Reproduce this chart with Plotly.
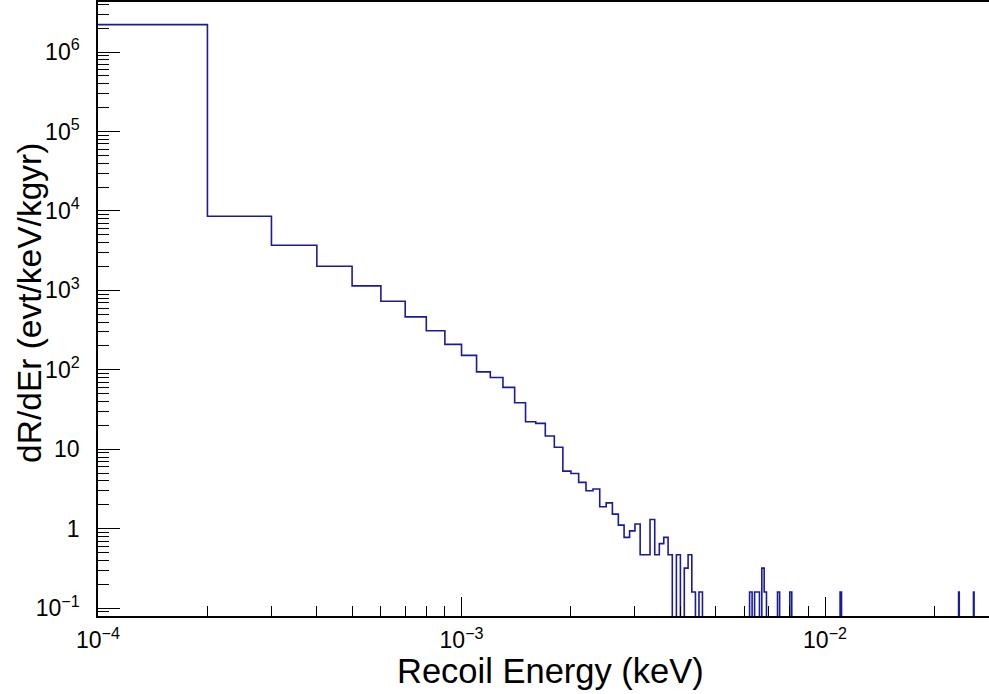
import numpy as np
import plotly.graph_objects as go

# ---- data ----
BIN_WIDTH = 1e-4            # keV, linear bins starting at 1e-4
N_BINS = 290
# bin contents for bins 1..45 (bin n spans [n, n+1] * 1e-4 keV)
low_bins = [2.21e6, 8570, 3705, 2015, 1140, 731, 464, 310, 209, 152,
            94.4, 80.2, 60.1, 38.5, 22.2, 21.2, 14.7, 10.6, 5.32, 4.97,
            3.83, 3.01, 3.16, 1.89, 2.12, 1.53, 1.11, 0.78, 0.94, 1.15,
            0.47, 0.47, 1.31, 0.47, 0.65, 0.78, 0.47, 0.0, 0.47, 0.0,
            0.32, 0.47, 0.16, 0.0, 0.16]
# sparse high-energy tail
tail_bin_index = [62, 64, 65, 67, 68, 74, 80, 110, 233, 256]
tail_values = [0.16, 0.16, 0.16, 0.32, 0.16, 0.16, 0.16, 0.16, 0.16, 0.16]

x_tick_vals = [1e-4, 1e-3, 1e-2]
x_tick_text = ["10<sup>−4</sup>", "10<sup>−3</sup>", "10<sup>−2</sup>"]
y_tick_vals = [1e-1, 1, 10, 1e2, 1e3, 1e4, 1e5, 1e6]
y_tick_text = ["10<sup>−1</sup>", "1", "10", "10<sup>2</sup>", "10<sup>3</sup>",
               "10<sup>4</sup>", "10<sup>5</sup>", "10<sup>6</sup>"]

# ---- build histogram ----
contents = np.zeros(N_BINS)
contents[:len(low_bins)] = low_bins
for idx, v in zip(tail_bin_index, tail_values):
    contents[idx - 1] = v
left_edges = BIN_WIDTH * np.arange(1, N_BINS + 1)
right_end = BIN_WIDTH * (N_BINS + 1)
y_plot = np.where(contents > 0, contents, 1e-4)   # empty bins fall below the axis
xs = np.append(left_edges, right_end)
ys = np.append(y_plot, y_plot[-1])

FONT = "Liberation Sans, Arial, Helvetica, sans-serif"

fig = go.Figure()
fig.add_trace(go.Scatter(x=xs, y=ys, mode="lines", line_shape="hv",
                         line=dict(color="#1a1a9c", width=1.6),
                         hoverinfo="skip", showlegend=False))

minor_x = [m * 10.0 ** e for e in (-4, -3, -2) for m in range(2, 10) if m * 10.0 ** e < 0.03]
minor_y = [m * 10.0 ** e for e in range(-2, 7) for m in range(2, 10)
           if 0.079 < m * 10.0 ** e < 4.3e6]

fig.update_layout(
    width=989, height=694,
    margin=dict(l=98, r=0, t=2, b=78),
    paper_bgcolor="white", plot_bgcolor="white",
    font=dict(family=FONT, color="black"),
    xaxis=dict(type="log", range=[-4, -1.549],
               showline=True, linecolor="black", linewidth=1.5, mirror=True,
               showgrid=False, zeroline=False,
               ticks="inside", ticklen=19, tickwidth=1.2, tickcolor="black",
               tickmode="array", tickvals=x_tick_vals, ticktext=x_tick_text,
               tickfont=dict(size=23, family=FONT), ticklabelstandoff=3,
               minor=dict(tickmode="array", tickvals=minor_x, ticks="inside",
                          ticklen=10, tickwidth=1.2, tickcolor="black", showgrid=False)),
    yaxis=dict(type="log", range=[np.log10(0.0798), np.log10(4.26e6)],
               showline=True, linecolor="black", linewidth=1.5, mirror=False,
               showgrid=False, zeroline=False,
               ticks="inside", ticklen=22, tickwidth=1.2, tickcolor="black",
               tickmode="array", tickvals=y_tick_vals, ticktext=y_tick_text,
               tickfont=dict(size=23, family=FONT), ticklabelstandoff=12,
               minor=dict(tickmode="array", tickvals=minor_y, ticks="inside",
                          ticklen=11, tickwidth=1.2, tickcolor="black", showgrid=False)),
    annotations=[
        dict(text="Recoil Energy (keV)", xref="paper", yref="paper",
             x=0.5084, y=-0.09, xanchor="center", yanchor="middle",
             showarrow=False, font=dict(size=34.5, family=FONT)),
        dict(text="dR/dEr (evt/keV/kgyr)", xref="paper", yref="paper",
             x=-0.0763, y=0.51, xanchor="center", yanchor="middle", textangle=-90,
             showarrow=False, font=dict(size=33.5, family=FONT)),
    ],
)

fig.write_html("out.html")
